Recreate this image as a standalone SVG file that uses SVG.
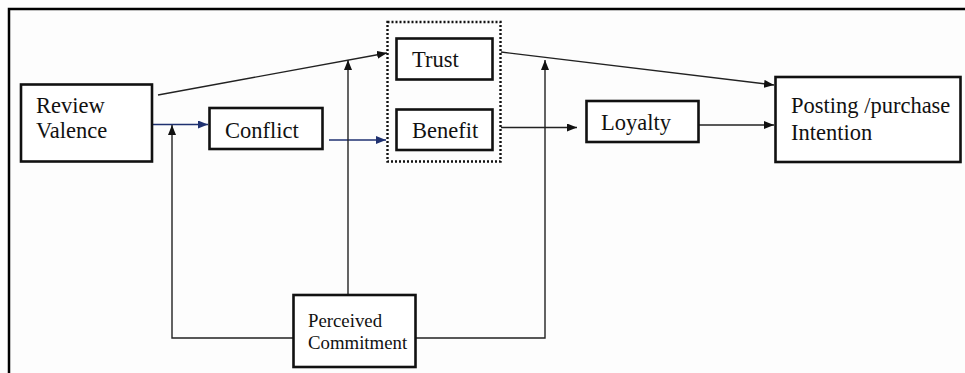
<svg xmlns="http://www.w3.org/2000/svg" width="965" height="373" viewBox="0 0 965 373">
<style>
.box{fill:#fff;stroke:#111;stroke-width:2.6}
.t{font-family:"Liberation Serif","Times New Roman","DejaVu Serif",serif;font-size:22.5px;fill:#111}
.ts{font-family:"Liberation Serif","Times New Roman","DejaVu Serif",serif;font-size:18.8px;fill:#111}
.c{fill:none;stroke:#222;stroke-width:1.4}
.cb{fill:none;stroke:#1f3170;stroke-width:1.4}
</style>
<defs>
<marker id="ak" markerWidth="10" markerHeight="8" refX="10" refY="4" orient="auto" markerUnits="userSpaceOnUse"><path d="M0,0 L10,4 L0,8 Z" fill="#111"/></marker>
<marker id="ab" markerWidth="10" markerHeight="8" refX="10" refY="4" orient="auto" markerUnits="userSpaceOnUse"><path d="M0,0 L10,4 L0,8 Z" fill="#1f3170"/></marker>
</defs>
<rect x="0" y="0" width="965" height="373" fill="#fdfdfd"/>
<g id="frame" fill="none" stroke="#000" stroke-width="2.5">
<path d="M9,373 V9 H965"/>
</g>
<g id="connectors">
<path class="cb" d="M152,124.5 H208" marker-end="url(#ab)"/>
<path class="cb" d="M329,140 H386" marker-end="url(#ab)"/>
<path class="c" d="M158,95 L387,53" marker-end="url(#ak)"/>
<path class="c" d="M501,52 L774,85" marker-end="url(#ak)"/>
<path class="c" d="M501,127.5 H577" marker-end="url(#ak)"/>
<path class="c" d="M699,125 H774" marker-end="url(#ak)"/>
<path class="c" d="M293,338 H172 V125" marker-end="url(#ak)"/>
<path class="c" d="M348,295 V60" marker-end="url(#ak)"/>
<path class="c" d="M416,338 H545 V60" marker-end="url(#ak)"/>
</g>
<g id="group-trust-benefit">
<rect x="387.5" y="22" width="113" height="139.5" fill="none" stroke="#111" stroke-width="2.4" stroke-dasharray="2,2"/>
</g>
<g id="review-valence">
<rect class="box" x="21" y="84.5" width="131" height="77"/>
<text class="t" x="36" y="113">Review</text>
<text class="t" x="36" y="138">Valence</text>
</g>
<g id="conflict">
<rect class="box" x="209.5" y="108" width="113" height="41"/>
<text class="t" x="225" y="138">Conflict</text>
</g>
<g id="trust">
<rect class="box" x="396.5" y="38.5" width="96" height="41"/>
<text class="t" x="412" y="67">Trust</text>
</g>
<g id="benefit">
<rect class="box" x="396.5" y="109.5" width="96" height="40.5"/>
<text class="t" x="412" y="138">Benefit</text>
</g>
<g id="loyalty">
<rect class="box" x="586.5" y="101" width="112" height="41"/>
<text class="t" x="601" y="130">Loyalty</text>
</g>
<g id="posting">
<rect class="box" x="775.5" y="77" width="185" height="85"/>
<text class="t" x="791" y="113">Posting /purchase</text>
<text class="t" x="791" y="140">Intention</text>
</g>
<g id="perceived-commitment">
<rect class="box" x="293.5" y="295" width="122" height="72"/>
<text class="ts" x="308" y="327">Perceived</text>
<text class="ts" x="308" y="349">Commitment</text>
</g>
</svg>
